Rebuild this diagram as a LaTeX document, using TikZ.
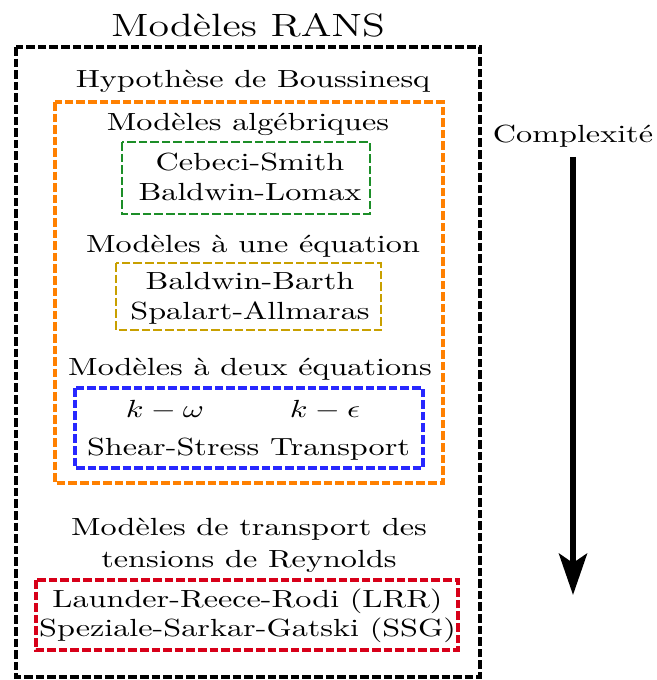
\documentclass[tikz,border=0pt]{standalone}
\usepackage{graphicx}
\usetikzlibrary{arrows.meta}

\definecolor{frameorange}{RGB}{255,128,0}
\definecolor{framegreen}{RGB}{28,142,40}
\definecolor{frameyellow}{RGB}{200,160,0}
\definecolor{frameblue}{RGB}{40,40,255}
\definecolor{framered}{RGB}{215,0,25}

% text is set at 10pt and enlarged, wider than tall
\newcommand\wide[1]{\scalebox{2.415}[1.86]{#1}}
\newcommand\stack[1]{\wide{\begin{tabular}[t]{@{}c@{}}#1\end{tabular}}}

\tikzset{
  lbl/.style={inner sep=0pt, anchor=base, font=\fontsize{10}{12}\selectfont},
  bigl/.style={inner sep=0pt, anchor=base, font=\fontsize{13}{15.6}\selectfont},
  frame/.style={dash pattern=on 6.5pt off 2.2pt, line width=2.4pt},
}

\begin{document}
\begin{tikzpicture}[x=0.75pt,y=-0.75pt]
\useasboundingbox (0,0) rectangle (656,680);

% nested dashed frames
\draw[frame, black] (16,47) rectangle (480,677);
\draw[frame, frameorange] (55,102) rectangle (443,483);
\draw[frame, framegreen, line width=1.7pt] (122,142) rectangle (370,214);
\draw[frame, frameyellow, line width=2pt] (116,263) rectangle (381,330);
\draw[frame, frameblue] (75,388) rectangle (423,468);
\draw[frame, framered] (36,580) rectangle (458,650);

% headings and model names
\node[bigl] (rans) at (248,37) {\wide{Modèles RANS}};
\node[lbl] (bous) at (253,88) {\wide{Hypothèse de Boussinesq}};
\node[lbl] (alg) at (248,131) {\wide{Modèles algébriques}};
\node[lbl] (alglist) at (250,171) {\stack{Cebeci-Smith\\Baldwin-Lomax}};
\node[lbl] (one) at (253,253) {\wide{Modèles à une équation}};
\node[lbl] (onelist) at (250,290) {\stack{Baldwin-Barth\\Spalart-Allmaras}};
\node[lbl] (two) at (250,375) {\wide{Modèles à deux équations}};
\node[lbl] (kw) at (165,417) {\wide{$k-\omega$}};
\node[lbl] (ke) at (325,417) {\wide{$k-\epsilon$}};
\node[lbl] (sst) at (248.5,455) {\wide{Shear-Stress Transport}};
\node[lbl] (rsm) at (249,535) {\stack{Modèles de transport des\\[1pt]tensions de Reynolds}};
\node[lbl] (rsmlist) at (247.5,607) {\stack{Launder-Reece-Rodi (LRR)\\Speziale-Sarkar-Gatski (SSG)}};

% complexity axis
\node[lbl] (cplx) at (573,143) {\wide{Complexité}};
\coordinate (axtop) at (573,157);
\coordinate (axtip) at (573,595);
\draw[line width=4.5pt, -{Stealth[length=31pt, width=21pt, inset=7pt]}] (axtop) -- (axtip);
\end{tikzpicture}
\end{document}
